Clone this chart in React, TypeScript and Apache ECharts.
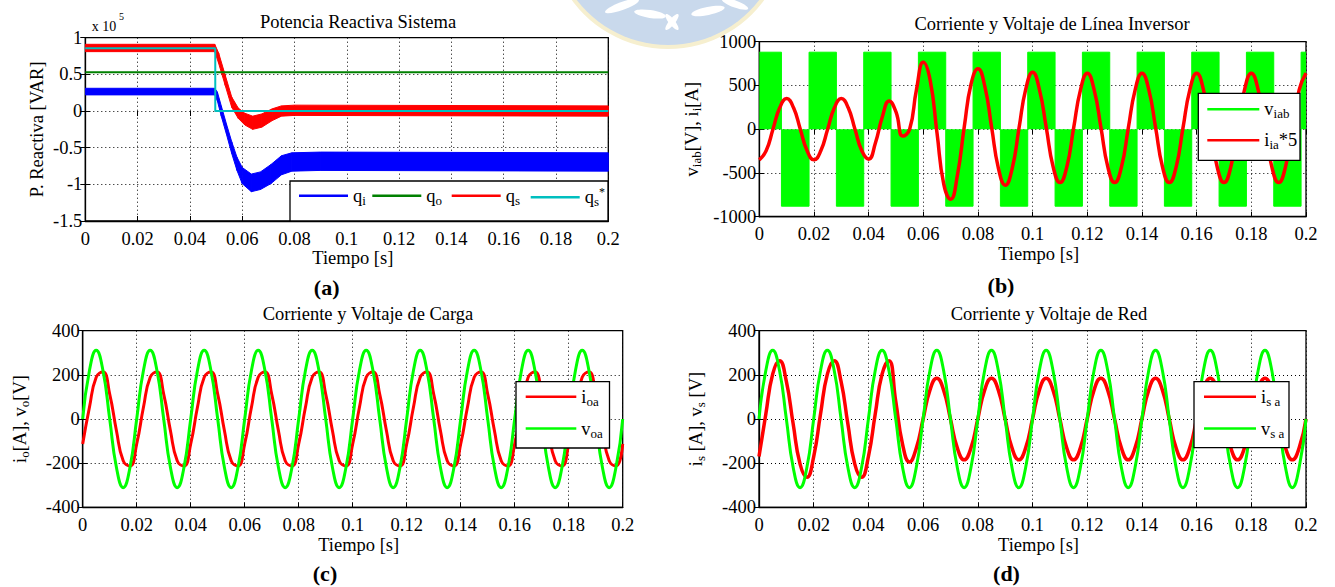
import React, { useEffect, useRef } from 'react';
import * as echarts from 'echarts';

const FONT = '"Liberation Serif", "Times New Roman", serif';

// time grid (s) for panels b, c, d
const T = [
  0, 0.0025, 0.005, 0.0075, 0.01, 0.0125, 0.015, 0.0175,
  0.02, 0.0225, 0.025, 0.0275, 0.03, 0.0325, 0.035, 0.0375,
  0.04, 0.0425, 0.045, 0.0475, 0.05, 0.0525, 0.055, 0.0575,
  0.06, 0.0625, 0.065, 0.0675, 0.07, 0.0725, 0.075, 0.0775,
  0.08, 0.0825, 0.085, 0.0875, 0.09, 0.0925, 0.095, 0.0975,
  0.1, 0.1025, 0.105, 0.1075, 0.11, 0.1125, 0.115, 0.1175,
  0.12, 0.1225, 0.125, 0.1275, 0.13, 0.1325, 0.135, 0.1375,
  0.14, 0.1425, 0.145, 0.1475, 0.15, 0.1525, 0.155, 0.1575,
  0.16, 0.1625, 0.165, 0.1675, 0.17, 0.1725, 0.175, 0.1775,
  0.18, 0.1825, 0.185, 0.1875, 0.19, 0.1925, 0.195, 0.1975,
  0.2,
];

// (c) load current / voltage
const I_OA = [
  -113, 53, 189, 213, 113, -53, -189, -213,
  -113, 53, 189, 213, 113, -53, -189, -213,
  -113, 53, 189, 213, 113, -53, -189, -213,
  -113, 53, 189, 213, 113, -53, -189, -213,
  -113, 53, 189, 213, 113, -53, -189, -213,
  -113, 53, 189, 213, 113, -53, -189, -213,
  -113, 53, 189, 213, 113, -53, -189, -213,
  -113, 53, 189, 213, 113, -53, -189, -213,
  -113, 53, 189, 213, 113, -53, -189, -213,
  -113, 53, 189, 213, 113, -53, -189, -213,
  -113,
];
const V_OA = [
  0, 220, 311, 220, 0, -220, -311, -220,
  0, 220, 311, 220, 0, -220, -311, -220,
  0, 220, 311, 220, 0, -220, -311, -220,
  0, 220, 311, 220, 0, -220, -311, -220,
  0, 220, 311, 220, 0, -220, -311, -220,
  0, 220, 311, 220, 0, -220, -311, -220,
  0, 220, 311, 220, 0, -220, -311, -220,
  0, 220, 311, 220, 0, -220, -311, -220,
  0, 220, 311, 220, 0, -220, -311, -220,
  0, 220, 311, 220, 0, -220, -311, -220,
  0,
];

// (d) grid current / voltage
const I_SA = [
  -170, 23, 203, 264, 170, -23, -203, -264,
  -170, 23, 203, 264, 170, -23, -203, -264,
  -170, 23, 203, 264, 80, -115, -195, -133,
  0, 131, 185, 131, 0, -131, -185, -131,
  0, 131, 185, 131, 0, -131, -185, -131,
  0, 131, 185, 131, 0, -131, -185, -131,
  0, 131, 185, 131, 0, -131, -185, -131,
  0, 131, 185, 131, 0, -131, -185, -131,
  0, 131, 185, 131, 0, -131, -185, -131,
  0, 131, 185, 131, 0, -131, -185, -131,
  0,
];
const V_SA = [
  0, 220, 311, 220, 0, -220, -311, -220,
  0, 220, 311, 220, 0, -220, -311, -220,
  0, 220, 311, 220, 0, -220, -311, -220,
  0, 220, 311, 220, 0, -220, -311, -220,
  0, 220, 311, 220, 0, -220, -311, -220,
  0, 220, 311, 220, 0, -220, -311, -220,
  0, 220, 311, 220, 0, -220, -311, -220,
  0, 220, 311, 220, 0, -220, -311, -220,
  0, 220, 311, 220, 0, -220, -311, -220,
  0, 220, 311, 220, 0, -220, -311, -220,
  0,
];

// (b) inverter current x5
const I_IA5 = [
  -350, -247, 0, 247, 350, 247, 0, -247,
  -350, -247, 0, 247, 350, 247, 0, -247,
  -342, -155, 140, 323, 197, -79, 0, 453,
  765, 560, -40, -630, -800, -520, 30, 520,
  690, 490, 20, -450, -640, -450, 10, 460,
  650, 450, 15, -430, -610, -430, 15, 450,
  640, 450, 15, -430, -610, -430, 15, 450,
  640, 450, 15, -430, -610, -430, 15, 450,
  640, 450, 15, -430, -610, -430, 15, 450,
  640, 450, 15, -430, -610, -430, 15, 450,
  640,
];
// (b) inverter line voltage: switching instants and level after each
const V_IAB_T = [0, 0.0081, 0.0182, 0.0282, 0.0382, 0.0482, 0.0582, 0.0682, 0.0782, 0.0882, 0.0982,
  0.1082, 0.1182, 0.1282, 0.1382, 0.1482, 0.1582, 0.1682, 0.1782, 0.1882, 0.1982, 0.2];
const V_IAB = [880, -880, 880, -880, 880, -880, 880, -880, 880, -880, 880,
  -880, 880, -880, 880, -880, 880, -880, 880, -880, 880, 880];

// (a) reactive power (x 1e5 VAR): band envelopes
const QS_T = [0, 0.0495, 0.051, 0.0535, 0.056, 0.0585, 0.061, 0.064, 0.0675, 0.0715, 0.075, 0.08, 0.2];
const QS_HI = [0.91, 0.91, 0.79, 0.49, 0.19, 0.04, -0.03, -0.07, -0.04, 0.03, 0.07, 0.08, 0.07];
const QS_LO = [0.81, 0.81, 0.65, 0.35, 0.05, -0.10, -0.19, -0.25, -0.22, -0.13, -0.07, -0.06, -0.07];
const QI_T = [0, 0.0495, 0.0505, 0.052, 0.054, 0.056, 0.058, 0.06, 0.0635, 0.067, 0.071, 0.075, 0.079, 0.09, 0.2];
const QI_HI = [0.31, 0.31, 0.26, 0.07, -0.18, -0.42, -0.63, -0.77, -0.86, -0.83, -0.73, -0.61, -0.57, -0.56, -0.57];
const QI_LO = [0.22, 0.22, 0.14, -0.07, -0.32, -0.58, -0.81, -0.99, -1.10, -1.07, -0.99, -0.87, -0.82, -0.81, -0.82];
const QO_T = [0, 0.2];
const QO = [0.53, 0.53];
const QSREF_T = [0, 0.0497, 0.0497, 0.2];
const QSREF = [0.855, 0.855, 0, 0];

const X_TICKS = { min: 0, max: 0.2, interval: 0.02 };
const TITLES = ['Potencia Reactiva Sistema', 'Corriente y Voltaje de Línea Inversor', 'Corriente y Voltaje de Carga', 'Corriente y Voltaje de Red'];
const PANEL_TAGS = ['(a)', '(b)', '(c)', '(d)'];

const LABELS: Record<string, string> = {
  q_i: '{n|q}{s|i}', q_o: '{n|q}{s|o}', q_s: '{n|q}{s|s}', 'q_s*': '{n|q}{s|s}{p|*}',
  v_iab: '{n|v}{s|iab}', 'i_ia*5': '{n|i}{s|ia}{n|*5}',
  i_oa: '{n|i}{s|oa}', v_oa: '{n|v}{s|oa}', i_sa: '{n|i}{s|s a}', v_sa: '{n|v}{s|s a}',
};

const RICH = {
  n: { fontFamily: FONT, fontSize: 18.5, color: '#000', lineHeight: 22 },
  s: { fontFamily: FONT, fontSize: 13, color: '#000', lineHeight: 8, verticalAlign: 'bottom' },
  p: { fontFamily: FONT, fontSize: 12, color: '#000', lineHeight: 8, verticalAlign: 'top' },
};

const GRIDS = [
  { left: 85.3, top: 37.7, width: 523, height: 183.3 },
  { left: 759.3, top: 41.7, width: 546.7, height: 175 },
  { left: 82.7, top: 330.7, width: 540, height: 176.6 },
  { left: 759, top: 330.7, width: 547, height: 176.6 },
];

const BLUE = '#0000ff', DGREEN = '#008000', RED = '#ff0000', CYAN = '#00bfbf', GREEN = '#00ff00';

function pairs(xs: number[], ys: number[]) {
  return xs.map((x, i) => [x, ys[i]]);
}

function band(name: string, color: string, TT: number[], LO: number[], HI: number[]) {
  return {
    type: 'custom', name, xAxisIndex: 0, yAxisIndex: 0, clip: true,
    itemStyle: { color },
    encode: { x: 0, y: [1, 2] },
    data: TT.map((t, i) => [t, LO[i], HI[i]]),
    renderItem: (params: any, api: any) => {
      const i = params.dataIndex;
      if (i >= TT.length - 1) return null;
      const a = api.coord([TT[i], HI[i]]);
      const b = api.coord([TT[i + 1], HI[i + 1]]);
      const c = api.coord([TT[i + 1], LO[i + 1]]);
      const d = api.coord([TT[i], LO[i]]);
      return { type: 'polygon', shape: { points: [a, b, c, d] }, style: { fill: color, stroke: color, lineWidth: 1 } };
    },
  };
}

function line(name: string, color: string, g: number, data: number[][], width: number, extra: any = {}) {
  return {
    type: 'line', name, xAxisIndex: g, yAxisIndex: g, data, showSymbol: false, symbol: 'none',
    itemStyle: { color }, lineStyle: { color, width }, clip: true, ...extra,
  };
}

const axisFont = { fontFamily: FONT, fontSize: 18.5, color: '#000' };
const fmt = (v: number) => String(+v.toFixed(3));

function buildOption() {
  const xAxes: any[] = [];
  const yAxes: any[] = [];
  const yCfg = [
    { min: -1.5, max: 1, interval: 0.5, name: 'P. Reactiva [VAR]', gap: 39 },
    { min: -1000, max: 1000, interval: 500, name: '{n|v}{s|iab}{n|[V], i}{s|i}{n|[A]}', gap: 56 },
    { min: -400, max: 400, interval: 200, name: '{n|i}{s|o}{n|[A], v}{s|o}{n|[V]}', gap: 52 },
    { min: -400, max: 400, interval: 200, name: '{n|i}{s|s}{n| [A], v}{s|s}{n| [V]}', gap: 52 },
  ];
  for (let g = 0; g < 4; g++) {
    xAxes.push({
      type: 'value', gridIndex: g, ...X_TICKS, position: 'bottom',
      axisLine: { show: true, onZero: false, lineStyle: { color: '#000', width: 1.3 } },
      axisTick: { show: true, inside: true, length: 5, lineStyle: { color: '#000', width: 1 } },
      axisLabel: { ...axisFont, margin: 8, formatter: fmt },
      splitLine: { show: true, lineStyle: { color: '#000', width: 1, type: [1, 3] } },
      name: 'Tiempo [s]', nameLocation: 'middle', nameGap: 26,
      nameTextStyle: { ...axisFont, padding: [0, 0, 0, 12] },
    });
    const c = yCfg[g];
    yAxes.push({
      type: 'value', gridIndex: g, min: c.min, max: c.max, interval: c.interval, position: 'left',
      axisLine: { show: true, onZero: false, lineStyle: { color: '#000', width: 1.3 } },
      axisTick: { show: true, inside: true, length: 5, lineStyle: { color: '#000', width: 1 } },
      axisLabel: { ...axisFont, margin: 3, formatter: (v: number) => String(+v.toFixed(2)) },
      splitLine: { show: true, lineStyle: { color: '#000', width: 1, type: [1, 3] } },
      name: c.name, nameLocation: 'middle', nameGap: c.gap, nameRotate: 90,
      nameTextStyle: { ...axisFont, rich: RICH },
    });
  }
  for (let g = 0; g < 4; g++) {
    xAxes.push({
      type: 'value', gridIndex: g, ...X_TICKS, position: 'top',
      axisLine: { show: false }, axisLabel: { show: false }, splitLine: { show: false },
      axisTick: { show: true, inside: true, length: 5, lineStyle: { color: '#000', width: 1 } },
    });
    const c = yCfg[g];
    yAxes.push({
      type: 'value', gridIndex: g, min: c.min, max: c.max, interval: c.interval, position: 'right',
      axisLine: { show: false }, axisLabel: { show: false }, splitLine: { show: false },
      axisTick: { show: true, inside: true, length: 5, lineStyle: { color: '#000', width: 1 } },
    });
  }

  const legendItem = (name: string, color: string, x: number, yc: number, w: number) => ({
    data: [{ name, itemStyle: { color, borderWidth: 0 } }],
    left: x, top: yc - 11, orient: 'horizontal', icon: 'rect', itemWidth: w, itemHeight: 2.5,
    itemGap: 0, padding: 0, selectedMode: false, z: 20,
    textStyle: { ...axisFont, rich: RICH },
    formatter: (n: string) => LABELS[n] || n,
  });

  const legends = [
    legendItem('q_i', BLUE, 299, 197.3, 49),
    legendItem('q_o', DGREEN, 372.3, 197.3, 49),
    legendItem('q_s', RED, 451.7, 197.3, 49),
    legendItem('q_s*', CYAN, 530.7, 197.3, 49),
    legendItem('v_iab', GREEN, 1207.3, 110.7, 52),
    legendItem('i_ia*5', RED, 1207.3, 141.7, 52),
    legendItem('i_oa', RED, 525.7, 398.3, 50.6),
    legendItem('v_oa', GREEN, 525.7, 430, 50.6),
    legendItem('i_sa', RED, 1204, 398.3, 52),
    legendItem('v_sa', GREEN, 1204, 430, 52),
  ];

  const legendBoxes = [
    [290, 181, 318, 40],
    [1198.3, 93.3, 101.7, 67],
    [516, 381.7, 93.5, 66.3],
    [1194, 381.7, 95, 66],
  ].map(([x, y, w, h]) => ({
    type: 'rect', z: 15, shape: { x, y, width: w, height: h },
    style: { fill: '#fff', stroke: '#000', lineWidth: 1.3 },
  }));

  const titlePos = [[358, 21.7], [1052, 24], [368, 314], [1049, 314]];
  const tagPos = [[326.7, 287], [1001, 285], [325, 573.3], [1006.5, 573.3]];

  const texts: any[] = [];
  TITLES.forEach((t, i) => texts.push({
    type: 'text', x: titlePos[i][0], y: titlePos[i][1], z: 5,
    style: { text: t, fill: '#000', fontFamily: FONT, fontSize: 18.5, align: 'center', verticalAlign: 'middle' },
  }));
  PANEL_TAGS.forEach((t, i) => texts.push({
    type: 'text', x: tagPos[i][0], y: tagPos[i][1], z: 5,
    style: { text: t, fill: '#000', fontFamily: FONT, fontSize: 22, fontWeight: 'bold', align: 'center', verticalAlign: 'middle' },
  }));
  texts.push({ type: 'text', x: 91.7, y: 26, z: 5, style: { text: 'x 10', fill: '#000', fontFamily: FONT, fontSize: 14, align: 'left', verticalAlign: 'middle' } });
  texts.push({ type: 'text', x: 119, y: 16, z: 5, style: { text: '5', fill: '#000', fontFamily: FONT, fontSize: 10, align: 'left', verticalAlign: 'middle' } });

  const watermark = [
    { type: 'circle', z: -10, shape: { cx: 668, cy: -70, r: 119 }, style: { fill: '#f6efcf' } },
    { type: 'circle', z: -9, shape: { cx: 668, cy: -70, r: 115 }, style: { fill: '#c9d9ec' } },
    { type: 'ellipse', z: -8, x: 622, y: 6, rotation: 0.35, shape: { cx: 0, cy: 0, rx: 18, ry: 4 }, style: { fill: '#fff' } },
    { type: 'ellipse', z: -8, x: 650, y: 14, rotation: -0.15, shape: { cx: 0, cy: 0, rx: 16, ry: 4 }, style: { fill: '#fff' } },
    { type: 'ellipse', z: -8, x: 672, y: 22, rotation: 0.9, shape: { cx: 0, cy: 0, rx: 10, ry: 3 }, style: { fill: '#fff' } },
    { type: 'ellipse', z: -8, x: 672, y: 22, rotation: -0.9, shape: { cx: 0, cy: 0, rx: 10, ry: 3 }, style: { fill: '#fff' } },
    { type: 'ellipse', z: -8, x: 708, y: 11, rotation: 0.2, shape: { cx: 0, cy: 0, rx: 17, ry: 4 }, style: { fill: '#fff' } },
    { type: 'ellipse', z: -8, x: 735, y: 4, rotation: -0.35, shape: { cx: 0, cy: 0, rx: 14, ry: 3.5 }, style: { fill: '#fff' } },
  ];

  const series: any[] = [
    band('q_i', BLUE, QI_T, QI_LO, QI_HI),
    line('q_o', DGREEN, 0, pairs(QO_T, QO), 2),
    band('q_s', RED, QS_T, QS_LO, QS_HI),
    line('q_s*', CYAN, 0, pairs(QSREF_T, QSREF), 2),
    line('v_iab', GREEN, 1, pairs(V_IAB_T, V_IAB), 1, { step: 'end', areaStyle: { color: GREEN, opacity: 1 } }),
    line('i_ia*5', RED, 1, pairs(T, I_IA5), 3.5, { smooth: true }),
    line('i_oa', RED, 2, pairs(T, I_OA), 3, { smooth: true }),
    line('v_oa', GREEN, 2, pairs(T, V_OA), 3, { smooth: true }),
    line('i_sa', RED, 3, pairs(T, I_SA), 3.5, { smooth: true }),
    line('v_sa', GREEN, 3, pairs(T, V_SA), 3, { smooth: true }),
  ];

  return {
    animation: false,
    backgroundColor: '#fff',
    grid: GRIDS.map((g) => ({ ...g, show: true, borderColor: '#000', borderWidth: 1.3, backgroundColor: 'transparent' })),
    xAxis: xAxes,
    yAxis: yAxes,
    legend: legends,
    graphic: { elements: [...watermark, ...legendBoxes, ...texts] },
    series,
  };
}

export default function App() {
  const ref = useRef<HTMLDivElement>(null);
  useEffect(() => {
    const chart = echarts.init(ref.current!, undefined, { renderer: 'svg' });
    chart.setOption(buildOption() as any);
    return () => chart.dispose();
  }, []);
  return (
    <div
      ref={ref}
      style={{ position: 'absolute', left: 0, top: 0, width: 1335, height: 587, background: '#fff' }}
    />
  );
}
